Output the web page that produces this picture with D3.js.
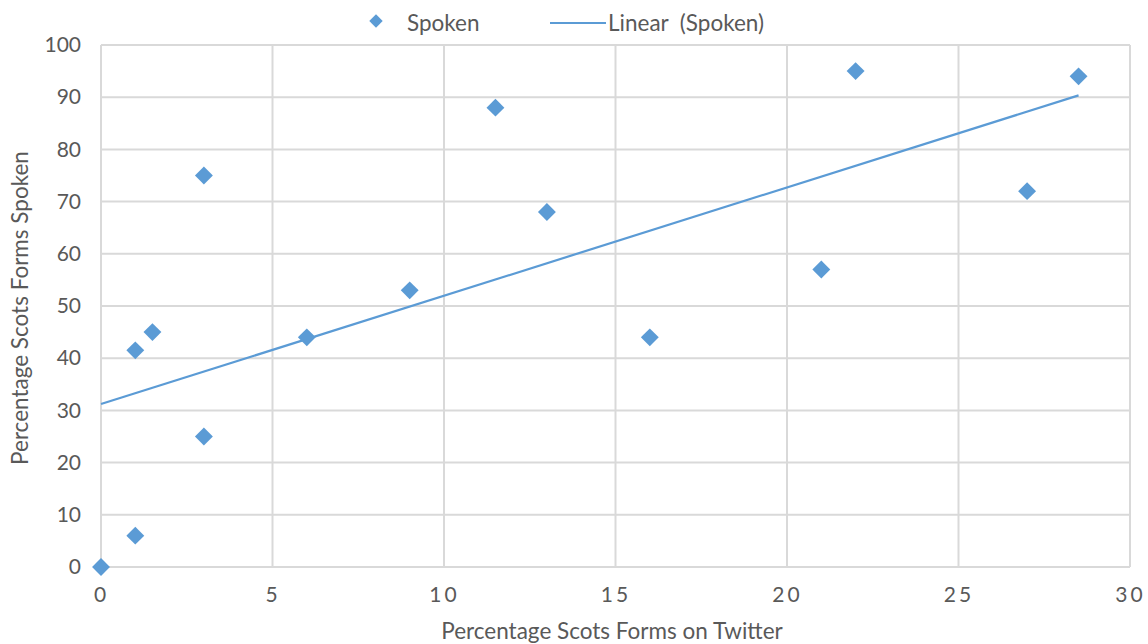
<!DOCTYPE html>
<html>
<head>
<meta charset="utf-8">
<script src="https://cdn.jsdelivr.net/npm/d3@7"></script>
<style>
  body { margin: 0; background: #fff; }
  text { font-family: Lato, "Open Sans", sans-serif; fill: #595959; }
</style>
</head>
<body>
<div id="chart"></div>
<script>
  // Data
  const twitterPct = [0, 1, 1, 1.5, 3, 3, 6, 9, 11.5, 13, 16, 21, 22, 27, 28.5];
  const spokenPct = [0, 6, 41.5, 45, 75, 25, 44, 53, 88, 68, 44, 57, 95, 72, 94];
  const xTicks = [0, 5, 10, 15, 20, 25, 30];
  const yTicks = [0, 10, 20, 30, 40, 50, 60, 70, 80, 90, 100];

  const W = 1148, H = 644;
  const margin = { top: 45, right: 18, bottom: 77, left: 101 };
  const width = W - margin.left - margin.right;
  const height = H - margin.top - margin.bottom;
  const blue = "#5b9bd5";

  const svg = d3.select("#chart").append("svg")
    .attr("width", W).attr("height", H);
  const g = svg.append("g")
    .attr("transform", `translate(${margin.left},${margin.top})`);

  const x = d3.scaleLinear().domain([0, 30]).range([0, width]);
  const y = d3.scaleLinear().domain([0, 100]).range([height, 0]);

  // Gridlines
  g.append("g").selectAll("line.v").data(xTicks).enter().append("line")
    .attr("x1", d => x(d)).attr("x2", d => x(d))
    .attr("y1", 0).attr("y2", height)
    .attr("stroke", "#d9d9d9").attr("stroke-width", 2);
  g.append("g").selectAll("line.h").data(yTicks).enter().append("line")
    .attr("x1", 0).attr("x2", width)
    .attr("y1", d => y(d)).attr("y2", d => y(d))
    .attr("stroke", "#d9d9d9").attr("stroke-width", 2);

  // Axes (labels only)
  const xAxis = g.append("g")
    .attr("transform", `translate(0,${height})`)
    .call(d3.axisBottom(x).tickValues(xTicks).tickSize(0).tickPadding(20));
  xAxis.select(".domain").remove();
  xAxis.selectAll("text")
    .style("font-size", "21px").style("letter-spacing", "3px")
    .attr("fill", "#595959");

  const yAxis = g.append("g")
    .call(d3.axisLeft(y).tickValues(yTicks).tickSize(0).tickPadding(20));
  yAxis.select(".domain").remove();
  yAxis.selectAll("text")
    .style("font-size", "21px").attr("fill", "#595959");

  // Linear trend line (least squares on the data)
  const pts = twitterPct.map((v, i) => [v, spokenPct[i]]);
  const mx = d3.mean(twitterPct), my = d3.mean(spokenPct);
  const sxy = d3.sum(pts, p => (p[0] - mx) * (p[1] - my));
  const sxx = d3.sum(pts, p => (p[0] - mx) ** 2);
  const slope = sxy / sxx, intercept = my - slope * mx;
  const xMin = d3.min(twitterPct), xMax = d3.max(twitterPct);

  g.append("line")
    .attr("x1", x(xMin)).attr("y1", y(intercept + slope * xMin))
    .attr("x2", x(xMax)).attr("y2", y(intercept + slope * xMax))
    .attr("stroke", blue).attr("stroke-width", 2.2);

  // Diamond markers
  const diamond = d3.symbol().type(d3.symbolSquare).size(160);
  g.selectAll(".pt").data(pts).enter().append("path")
    .attr("class", "pt")
    .attr("d", diamond)
    .attr("transform", d => `translate(${x(d[0])},${y(d[1])}) rotate(45)`)
    .attr("fill", blue);

  // Axis titles
  svg.append("text")
    .attr("x", 612).attr("y", 639)
    .attr("text-anchor", "middle")
    .style("font-size", "22.5px")
    .text("Percentage Scots Forms on Twitter");
  svg.append("text")
    .attr("transform", `translate(28,${margin.top + height / 2 + 2}) rotate(-90)`)
    .attr("text-anchor", "middle")
    .style("font-size", "22.5px")
    .text("Percentage Scots Forms Spoken");

  // Legend
  const leg = svg.append("g");
  leg.append("path")
    .attr("d", d3.symbol().type(d3.symbolSquare).size(90))
    .attr("transform", "translate(376,21) rotate(45)")
    .attr("fill", blue);
  leg.append("text").attr("x", 407).attr("y", 31)
    .style("font-size", "22.5px").text("Spoken");
  leg.append("line")
    .attr("x1", 550).attr("x2", 606).attr("y1", 23).attr("y2", 23)
    .attr("stroke", blue).attr("stroke-width", 2.2);
  leg.append("text").attr("x", 608).attr("y", 31)
    .style("font-size", "22.5px").style("white-space", "pre")
    .attr("xml:space", "preserve")
    .text("Linear  (Spoken)");
</script>
</body>
</html>
